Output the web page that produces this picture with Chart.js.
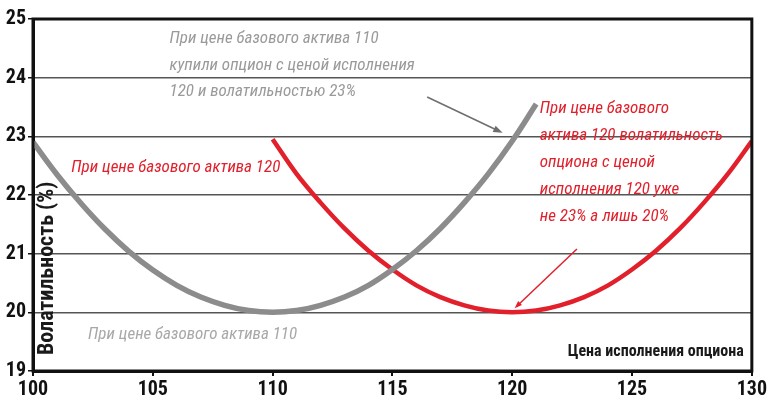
<!DOCTYPE html>
<html>
<head>
<meta charset="utf-8">
<script src="https://cdn.jsdelivr.net/npm/chart.js@4"></script>
<style>
  html,body{margin:0;padding:0;background:#fff;}
  #wrap{width:769px;height:401px;}
</style>
</head>
<body>
<div id="wrap"><canvas id="c" width="769" height="401"></canvas></div>
<script>
// ---- data ----
const strikesAt110 = [100,101,102,103,104,105,106,107,108,109,110,111,112,113,114,115,116,117,118,119,120,121];
const volAt110     = [22.9,22.35,21.86,21.42,21.04,20.72,20.46,20.26,20.12,20.03,20.0,20.03,20.12,20.26,20.46,20.73,21.05,21.43,21.87,22.36,22.92,23.55];
const strikesAt120 = [110,111,112,113,114,115,116,117,118,119,120,121,122,123,124,125,126,127,128,129,130];
const volAt120     = [22.95,22.36,21.87,21.43,21.05,20.73,20.46,20.26,20.12,20.03,20.0,20.03,20.12,20.26,20.46,20.73,21.05,21.43,21.87,22.36,22.92];
const xTicks = [100,105,110,115,120,125,130];
const yTicks = [19,20,21,22,23,24,25];
const xTitle = 'Цена исполнения опциона';
const yTitle = 'Волатильность (%)';
const noteTop = ['При цене базового актива 110','купили опцион с ценой исполнения','120 и волатильностью 23%'];
const noteRed = ['При цене базового актива 120'];
const noteGray = ['При цене базового актива 110'];
const noteRight = ['При цене базового','актива 120 волатильность','опциона с ценой','исполнения 120 уже','не 23% а лишь 20%'];

const GRAY = '#8c8c8c';
const RED = '#e1202b';
const NARROW = "'Liberation Sans Narrow','Arial Narrow','Roboto Condensed',sans-serif";

function pts(xs, ys){ return xs.map((x,i)=>({x:x,y:ys[i]})); }

const notes = {
  id:'notes',
  afterDraw(chart){
    const ctx = chart.ctx, xs = chart.scales.x, ys = chart.scales.y, a = chart.chartArea;
    const X = v=>xs.getPixelForValue(v), Y = v=>ys.getPixelForValue(v);
    ctx.save();
    // frame
    ctx.strokeStyle = '#111';
    ctx.lineWidth = 3;
    ctx.strokeRect(a.left, a.top, a.right-a.left, a.bottom-a.top);
    // text notes
    ctx.textBaseline = 'middle';
    ctx.textAlign = 'left';
    ctx.font = "italic 17px " + NARROW;
    function lines(arr, xv, yv, gap, color){
      ctx.fillStyle = color;
      arr.forEach((t,i)=>ctx.fillText(t, X(xv), Y(yv)+i*gap));
    }
    lines(noteTop, 105.7, 24.66, 26.5, '#9a9a9a');
    lines(noteRed, 101.6, 22.46, 0, RED);
    lines(noteGray, 102.3, 19.61, 0, '#a8a8a8');
    lines(noteRight, 121.15, 23.47, 27, RED);
    // arrows
    function arrow(x1,y1,x2,y2,color,w,head){
      const px1=X(x1),py1=Y(y1),px2=X(x2),py2=Y(y2);
      const ang=Math.atan2(py2-py1,px2-px1);
      ctx.strokeStyle=color; ctx.fillStyle=color; ctx.lineWidth=w;
      ctx.beginPath(); ctx.moveTo(px1,py1); ctx.lineTo(px2-Math.cos(ang)*head*0.6,py2-Math.sin(ang)*head*0.6); ctx.stroke();
      ctx.beginPath();
      ctx.moveTo(px2,py2);
      ctx.lineTo(px2-head*Math.cos(ang-0.35), py2-head*Math.sin(ang-0.35));
      ctx.lineTo(px2-head*Math.cos(ang+0.35), py2-head*Math.sin(ang+0.35));
      ctx.closePath(); ctx.fill();
    }
    arrow(116.45, 23.67, 119.6, 23.06, '#6e6e6e', 1.5, 10);
    arrow(122.7, 21.08, 120.1, 20.07, RED, 1.5, 8);
    // axis titles
    ctx.fillStyle = '#1a1a1a';
    ctx.font = "bold 16px " + NARROW;
    ctx.textAlign = 'right';
    ctx.fillText(xTitle, a.right-8, a.bottom-19);
    ctx.save();
    ctx.font = "bold 22px " + NARROW;
    ctx.textBaseline = 'alphabetic';
    ctx.translate(a.left+20, a.bottom-16);
    ctx.rotate(-Math.PI/2);
    ctx.textAlign = 'left';
    ctx.fillText(yTitle, 0, 0);
    ctx.restore();
    ctx.restore();
  }
};

new Chart(document.getElementById('c'), {
  type:'line',
  data:{
    datasets:[
      {data:pts(strikesAt110, volAt110), borderColor:GRAY, borderWidth:5.5, pointRadius:0, tension:0.4, fill:false},
      {data:pts(strikesAt120, volAt120), borderColor:RED, borderWidth:4.5, pointRadius:0, tension:0.4, fill:false}
    ]
  },
  options:{
    responsive:false,
    animation:false,
    layout:{padding:{top:19,right:16,left:0,bottom:0}},
    plugins:{legend:{display:false},tooltip:{enabled:false}},
    scales:{
      x:{
        type:'linear', min:xTicks[0], max:xTicks[xTicks.length-1],
        afterBuildTicks(s){ s.ticks = xTicks.map(v=>({value:v})); },
        grid:{drawOnChartArea:false, tickLength:5, color:'#111', lineWidth:2},
        border:{color:'#111', width:3},
        ticks:{color:'#111', font:{family:NARROW, size:20, weight:'bold'}, padding:2, maxRotation:0},
        afterFit(s){ s.height = 30; }
      },
      y:{
        type:'linear', min:yTicks[0], max:yTicks[yTicks.length-1],
        afterBuildTicks(s){ s.ticks = yTicks.map(v=>({value:v})); },
        grid:{color:'#555', lineWidth:1.5, tickLength:5, tickColor:'#111'},
        border:{color:'#111', width:3},
        ticks:{color:'#111', font:{family:NARROW, size:20, weight:'bold'}, padding:2},
        afterFit(s){ s.width = 33; }
      }
    }
  },
  plugins:[notes]
});
</script>
</body>
</html>
